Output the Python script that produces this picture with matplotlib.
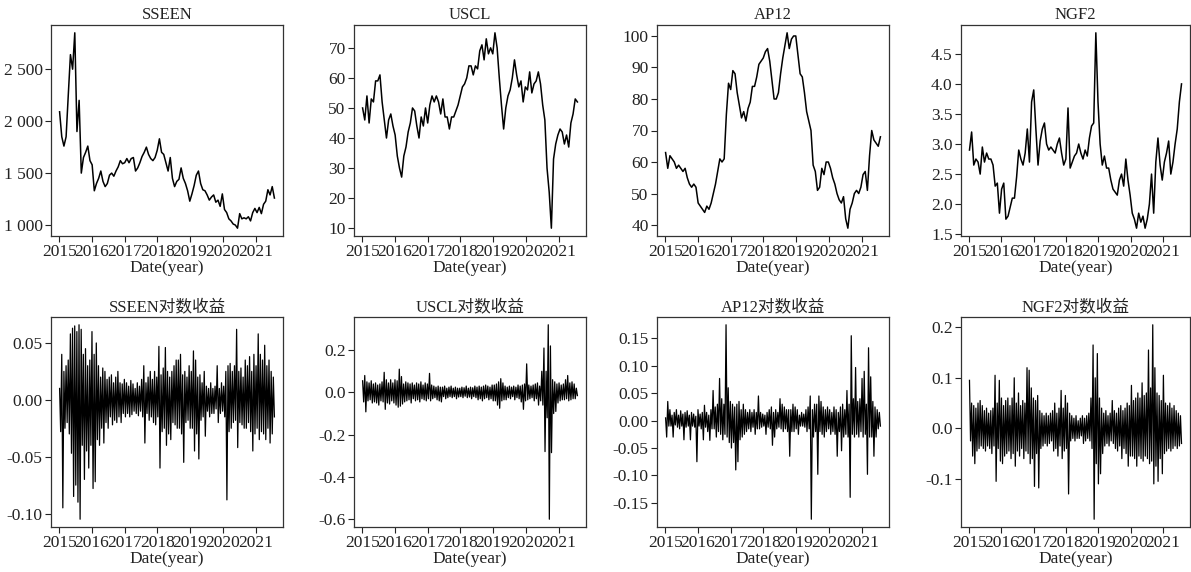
import numpy as np
import pandas as pd
import matplotlib
matplotlib.use("Agg")
import matplotlib.pyplot as plt
import matplotlib.dates as mdates
from matplotlib.ticker import MultipleLocator, FuncFormatter

plt.rcParams['font.family'] = ['Liberation Serif', 'Noto Sans CJK SC']
plt.rcParams['axes.unicode_minus'] = False

# data window (daily series, 2015-01 .. 2021-07)
start, end = "2015-01-05", "2021-07-30"

# price levels at evenly spaced dates
sseen_price = [2090, 1850, 1760, 1850, 2250, 2640, 2500, 2850, 1900, 2200,
               1500, 1650, 1700, 1760, 1620, 1580, 1330, 1400, 1450, 1520,
               1420, 1370, 1400, 1480, 1500, 1470, 1520, 1560, 1620, 1590,
               1600, 1640, 1600, 1640, 1650, 1520, 1550, 1600, 1660, 1700,
               1750, 1680, 1640, 1620, 1650, 1720, 1830, 1700, 1680, 1600,
               1520, 1650, 1450, 1370, 1420, 1440, 1550, 1450, 1400, 1330,
               1230, 1300, 1380, 1480, 1520, 1400, 1340, 1330, 1290, 1240,
               1270, 1290, 1220, 1240, 1180, 1300, 1150, 1120, 1060, 1040,
               1010, 1000, 970, 1110, 1060, 1070, 1060, 1080, 1040, 1120,
               1160, 1120, 1170, 1110, 1200, 1230, 1340, 1290, 1370, 1260]

uscl_price = [50, 46, 54, 45, 53, 52, 59, 59, 61, 52,
              46, 40, 46, 48, 44, 41, 34, 30, 27, 34,
              37, 42, 45, 50, 49, 44, 40, 47, 44, 50,
              45, 51, 54, 52, 54, 52, 48, 53, 47, 47,
              43, 47, 47, 49, 51, 54, 57, 58, 60, 64,
              64, 61, 64, 63, 69, 71, 66, 73, 68, 70,
              68, 75, 70, 60, 51, 43, 50, 54, 56, 60,
              66, 61, 57, 59, 52, 57, 56, 62, 55, 58,
              59, 62, 58, 51, 46, 30, 22, 10, 33, 38,
              41, 43, 42, 38, 41, 37, 45, 48, 53, 52]

ap12_price = [63, 58, 62, 61, 60, 58, 59, 58, 57, 58,
              55, 53, 52, 53, 52, 47, 46, 45, 44, 46,
              45, 47, 50, 53, 57, 61, 60, 61, 75, 85,
              83, 89, 88, 82, 78, 74, 76, 73, 77, 79,
              84, 84, 87, 91, 92, 93, 95, 96, 92, 86,
              80, 80, 82, 88, 93, 97, 101, 96, 99, 100,
              100, 94, 88, 87, 82, 76, 73, 70, 59, 57,
              51, 52, 58, 56, 60, 60, 58, 55, 53, 50,
              48, 47, 49, 42, 39, 45, 47, 50, 51, 50,
              52, 56, 57, 51, 62, 70, 67, 66, 65, 68]

ngf2_price = [2.9, 3.2, 2.65, 2.75, 2.7, 2.5, 2.95, 2.7, 2.85, 2.75,
              2.75, 2.65, 2.3, 2.35, 1.85, 2.25, 2.35, 1.75, 1.8, 1.95,
              2.1, 2.1, 2.45, 2.9, 2.75, 2.65, 2.85, 3.25, 2.7, 3.7,
              3.9, 3.25, 2.65, 3.05, 3.25, 3.35, 3.0, 2.9, 2.95, 2.9,
              2.85, 3.0, 3.1, 2.85, 2.65, 2.75, 3.6, 2.6, 2.7, 2.8,
              2.85, 3.0, 2.85, 2.75, 2.9, 2.8, 3.1, 3.3, 3.35, 4.85,
              3.7, 3.0, 2.65, 2.8, 2.6, 2.6, 2.4, 2.25, 2.2, 2.15,
              2.4, 2.5, 2.3, 2.75, 2.4, 2.15, 1.85, 1.75, 1.6, 1.85,
              1.7, 1.8, 1.6, 1.75, 2.0, 2.5, 1.85, 2.7, 3.1, 2.65,
              2.4, 2.7, 2.85, 3.05, 2.5, 2.7, 3.0, 3.25, 3.7, 4.0]

# log returns in per mille (high / low swings)
sseen_ret = [10, -28, 40, -95, 25, -25, 30, -20, 35, -30,
             58, -47, 63, -85, 65, -75, 60, -90, 66, -105,
             62, -40, 40, -70, 45, -45, 30, -60, 35, -40,
             60, -78, 40, -72, 50, -35, 30, -40, 20, -25,
             28, -38, 25, -20, 18, -25, 20, -15, 22, -22,
             15, -18, 20, -20, 25, -15, 15, -20, 14, -12,
             18, -15, 15, -12, 12, -15, 17, -13, 14, -10,
             10, -12, 15, -14, 12, -10, 18, -15, 30, -38,
             15, -12, 20, -18, 25, -15, 18, -20, 25, -22,
             20, -15, 47, -60, 22, -28, 28, -25, 46, -40,
             25, -30, 20, -35, 25, -20, 30, -22, 35, -25,
             35, -25, 40, -30, 22, -55, 25, -20, 20, -18,
             30, -25, 25, -25, 43, -45, 35, -30, 20, -52,
             22, -18, 15, -15, 25, -32, 12, -10, 10, -15,
             15, -12, 10, -12, 12, -8, 30, -20, 10, -12,
             15, -10, 12, -15, 25, -88, 30, -28, 32, -25,
             25, -20, 30, -18, 62, -42, 25, -20, 28, -22,
             20, -25, 35, -25, 30, -20, 38, -28, 25, -45,
             40, -30, 30, -25, 58, -35, 40, -28, 35, -30,
             48, -35, 30, -25, 35, -38, 25, -30, 20, -15]

uscl_ret = [55, -45, 80, -92, 50, -40, 45, -35, 55, -50,
            40, -45, 45, -50, 35, -60, 40, -40, 50, -45,
            95, -80, 60, -50, 45, -55, 60, -40, 45, -50,
            60, -60, 55, -70, 110, -65, 75, -55, 40, -45,
            50, -40, 45, -35, 40, -50, 45, -30, 35, -40,
            45, -35, 40, -45, 50, -30, 35, -35, 45, -40,
            40, -30, 90, -40, 35, -30, 30, -25, 25, -35,
            30, -40, 25, -45, 25, -20, 30, -30, 20, -25,
            25, -20, 30, -25, 20, -20, 25, -30, 20, -22,
            20, -20, 25, -25, 22, -18, 30, -25, 20, -22,
            25, -30, 22, -20, 30, -25, 25, -35, 30, -30,
            25, -40, 30, -30, 35, -25, 30, -35, 25, -30,
            35, -40, 35, -40, 40, -60, 50, -75, 65, -40,
            45, -35, 30, -35, 25, -25, 30, -30, 25, -20,
            30, -35, 25, -25, 35, -30, 30, -45, 35, -80,
            40, -40, 135, -35, 35, -30, 30, -25, 35, -40,
            40, -30, 45, -60, 30, -40, 100, -60, 210, -280,
            100, -120, 320, -600, 220, -285, 60, -100, 50, -90,
            40, -50, 45, -40, 35, -35, 40, -35, 60, -30,
            80, -40, 45, -35, 50, -30, 40, -30, 20, -15]

ap12_ret = [5, -30, 35, -10, 20, -10, 10, -30, 15, -8,
            20, -12, 10, -15, 18, -10, 12, -35, 15, -12,
            18, -10, 10, -35, 15, -10, 12, -12, 8, -75,
            20, -10, 12, -15, 15, -35, 28, -12, 15, -20,
            10, -36, 20, -15, 55, -15, 25, -30, 30, -20,
            77, -25, 40, -35, 30, -25, 175, -30, 60, -40,
            35, -50, 30, -40, 25, -90, 30, -75, 35, -35,
            20, -30, 30, -25, 20, -20, 15, -15, 20, -20,
            15, -12, 20, -25, 15, -15, 45, -15, 15, -12,
            12, -10, 10, -25, 15, -12, 20, -15, 25, -45,
            15, -30, 20, -15, 15, -12, 40, -15, 30, -20,
            25, -15, 20, -20, 20, -65, 20, -20, 30, -20,
            25, -15, 20, -25, 10, -10, 15, -10, 12, -12,
            20, -20, 25, -15, 45, -180, 20, -30, 30, -20,
            30, -98, 45, -20, 35, -25, 25, -30, 20, -20,
            25, -15, 20, -25, 15, -20, 25, -25, 20, -65,
            15, -20, 25, -55, 30, -30, 20, -25, 55, -30,
            30, -140, 155, -25, 40, -30, 97, -25, 35, -30,
            40, -20, 77, -30, 90, -25, 30, -98, 133, -30,
            80, -30, 35, -65, 25, -30, 20, -15, 15, -10]

ngf2_ret = [95, -25, 50, -55, 45, -70, 40, -45, 50, -40,
            55, -35, 45, -40, 35, -45, 40, -35, 30, -40,
            35, -50, 40, -35, 105, -105, 50, -40, 95, -65,
            60, -70, 45, -55, 55, -50, 60, -45, 45, -60,
            60, -50, 100, -75, 50, -45, 70, -55, 45, -40,
            55, -60, 50, -45, 120, -50, 115, -70, 80, -60,
            60, -115, 55, -50, 65, -118, 35, -40, 30, -35,
            25, -30, 30, -35, 25, -30, 30, -25, 35, -45,
            50, -40, 30, -55, 40, -35, 75, -60, 40, -45,
            65, -40, 50, -130, 30, -25, 25, -20, 20, -25,
            25, -20, 15, -20, 20, -15, 25, -30, 20, -25,
            25, -20, 30, -25, 60, -40, 165, -180, 100, -70,
            148, -110, 60, -90, 40, -50, 30, -35, 35, -30,
            25, -35, 30, -25, 55, -30, 35, -40, 30, -45,
            40, -35, 45, -60, 35, -40, 40, -50, 50, -75,
            45, -55, 85, -55, 55, -60, 60, -75, 70, -55,
            60, -60, 90, -65, 65, -55, 70, -60, 155, -70,
            80, -65, 205, -110, 120, -75, 70, -105, 65, -60,
            55, -90, 105, -50, 50, -45, 45, -40, 50, -45,
            40, -40, 45, -35, 35, -40, 30, -35, 25, -30]


def thousands(v, pos):
    return f"{v:,.0f}".replace(",", " ")


def fixed(nd):
    def f(v, pos):
        if abs(v) < 1e-9:
            v = 0.0
        return f"{v:.{nd}f}"
    return FuncFormatter(f)


panels = [
    ("SSEEN", sseen_price, 1, 500, FuncFormatter(thousands), 1.1),
    ("USCL", uscl_price, 1, 10, fixed(0), 1.1),
    ("AP12", ap12_price, 1, 10, fixed(0), 1.1),
    ("NGF2", ngf2_price, 1, 0.5, fixed(1), 1.1),
    ("SSEEN对数收益", sseen_ret, 1000, 0.05, fixed(2), 0.9),
    ("USCL对数收益", uscl_ret, 1000, 0.2, fixed(1), 0.9),
    ("AP12对数收益", ap12_ret, 1000, 0.05, fixed(2), 0.9),
    ("NGF2对数收益", ngf2_ret, 1000, 0.1, fixed(1), 0.9),
]

W, H = 1191, 572
fig = plt.figure(figsize=(W / 100, H / 100), dpi=100)

lefts = [51, 354, 657, 961]
widths = [232, 232, 232, 229]
rows = [(25, 236), (317, 527)]

for i, (title, vals, scale, step, fmt, lw) in enumerate(panels):
    r, c = divmod(i, 4)
    top, bot = rows[r]
    ax = fig.add_axes([lefts[c] / W, 1 - bot / H, widths[c] / W, (bot - top) / H])
    y = np.array(vals, dtype=float) / scale
    dates = pd.date_range(start, end, periods=len(y))
    ax.plot(dates, y, color='black', lw=lw)
    ax.margins(x=0.04, y=0.04)
    ax.xaxis.set_major_locator(mdates.YearLocator())
    ax.xaxis.set_major_formatter(mdates.DateFormatter('%Y'))
    ax.yaxis.set_major_locator(MultipleLocator(step))
    ax.yaxis.set_major_formatter(fmt)
    ax.tick_params(direction='out', length=4, width=0.8, labelsize=12.5,
                   colors='#222222', pad=2)
    for s in ax.spines.values():
        s.set_linewidth(0.9)
        s.set_color('#333333')
    ax.set_title(title, fontsize=12, pad=4, color='#222222')
    ax.set_xlabel('Date(year)', fontsize=12.5, labelpad=0, color='#222222')

fig.savefig('out.png', dpi=100)
